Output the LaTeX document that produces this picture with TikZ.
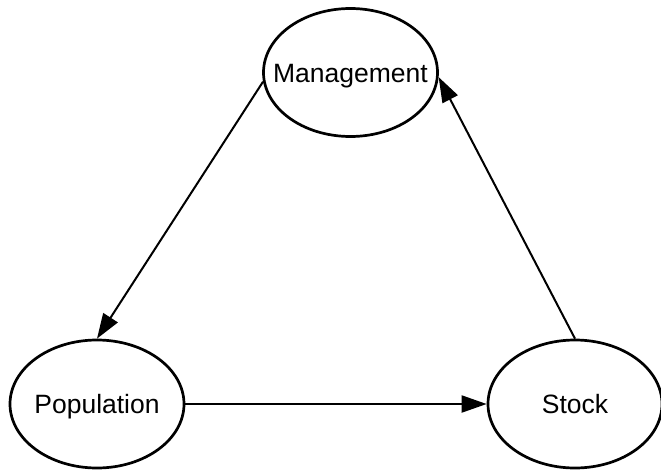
\documentclass[tikz,border=0pt]{standalone}
\usepackage{fontspec}
\setmainfont{Liberation Sans}
\usetikzlibrary{shapes.geometric,arrows.meta}
\tikzset{
  stateell/.style={ellipse, draw=black, line width=2.7pt, fill=white,
    minimum width=174pt, minimum height=128pt, inner sep=0pt,
    font=\fontsize{26.5pt}{30pt}\selectfont, text height=19pt, text depth=0pt},
  flow/.style={line width=2pt, -{Triangle[length=25pt,width=17pt]}}
}
\newcommand{\ctext}[1]{\makebox[0pt]{#1}}
\begin{document}
\begin{tikzpicture}[x=1pt,y=-1pt]
\useasboundingbox (0,0) rectangle (661,469);
\node[stateell] (mgmt) at (350.5,72.5) {\ctext{Management}};
\node[stateell] (pop) at (97,404) {\ctext{Population}};
\node[stateell] (stock) at (575,404) {\ctext{Stock}};
\draw[flow] (mgmt.186) -- (pop.north);
\draw[flow] (pop.east) -- (stock.west);
\draw[flow] (stock.north) -- (mgmt.-3.5);
\end{tikzpicture}
\end{document}
